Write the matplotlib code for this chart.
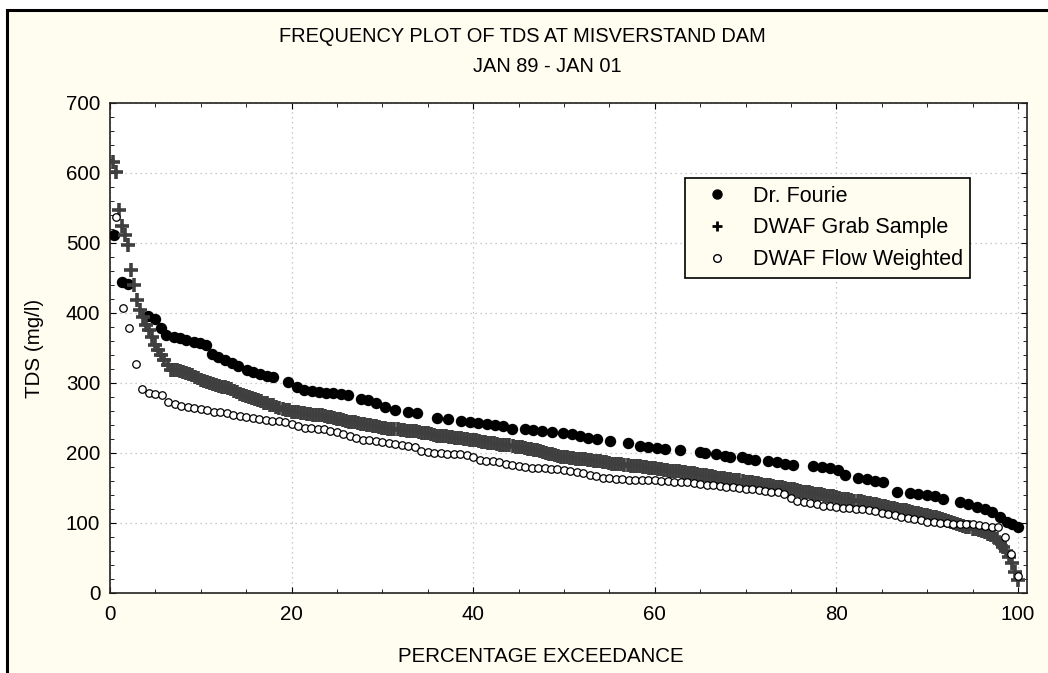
import numpy as np
import matplotlib.pyplot as plt
from matplotlib.patches import Rectangle
from matplotlib.lines import Line2D
from matplotlib.ticker import MultipleLocator

plt.rcParams['font.family'] = ['Liberation Sans', 'DejaVu Sans']

# Dr. Fourie: percentage exceedance and TDS (mg/l)
fourie_pct = [0.4, 1.3, 2.0, 4.2, 5.0, 5.6, 6.2, 7.0, 7.7, 8.4,
              9.2, 9.9, 10.6, 11.2, 11.9, 12.7, 13.4, 14.1, 15.1, 15.8,
              16.5, 17.3, 18.0, 19.6, 20.6, 21.4, 22.2, 23.0, 23.8, 24.6,
              25.4, 26.2, 27.6, 28.4, 29.3, 30.3, 31.4, 32.8, 33.8, 36.0,
              37.2, 38.7, 39.6, 40.5, 41.5, 42.4, 43.3, 44.3, 45.7, 46.6,
              47.6, 48.7, 49.9, 50.9, 51.8, 52.6, 53.6, 55.1, 57.0, 58.4,
              59.3, 60.2, 61.1, 62.8, 65.0, 65.5, 66.8, 67.7, 68.3, 69.6,
              70.3, 71.0, 72.5, 73.5, 74.3, 75.2, 77.4, 78.4, 79.3, 80.2,
              81.0, 82.4, 83.4, 84.3, 85.1, 86.7, 88.1, 89.0, 90.0, 90.9,
              91.7, 93.6, 94.5, 95.5, 96.4, 97.2, 98.0, 98.8, 99.4, 100.0]
fourie_tds = [512, 444, 441, 396, 392, 379, 369, 366, 365, 361,
              358, 357, 355, 341, 337, 333, 328, 324, 319, 316,
              313, 310, 309, 301, 295, 290, 288, 287, 286, 286,
              285, 283, 277, 276, 272, 266, 261, 259, 257, 250,
              249, 246, 245, 243, 241, 240, 238, 234, 234, 233,
              231, 230, 229, 227, 224, 222, 220, 217, 214, 210,
              209, 207, 206, 204, 202, 200, 198, 196, 195, 194,
              192, 190, 189, 187, 185, 183, 182, 180, 178, 176,
              169, 165, 163, 160, 158, 145, 143, 141, 140, 138,
              134, 130, 127, 123, 120, 116, 109, 102, 99, 95]

# DWAF grab samples, TDS sorted high to low
grab_tds = [616, 601, 547, 525, 512, 497, 461, 440, 419, 405,
            395, 383, 376, 366, 354, 347, 340, 333, 326, 319,
            319, 318, 317, 316, 314, 313, 311, 309, 307, 305,
            303, 301, 300, 299, 297, 296, 295, 294, 293, 291,
            289, 287, 285, 283, 281, 280, 279, 277, 276, 274,
            272, 271, 269, 268, 266, 265, 263, 262, 261, 259,
            258, 258, 257, 257, 256, 256, 255, 255, 254, 254,
            253, 252, 251, 250, 249, 248, 247, 246, 245, 245,
            244, 243, 242, 241, 240, 240, 239, 238, 237, 236,
            236, 235, 235, 234, 234, 233, 233, 232, 232, 231,
            231, 230, 229, 228, 228, 227, 226, 225, 225, 224,
            224, 223, 223, 222, 221, 221, 220, 220, 219, 218,
            218, 217, 216, 216, 215, 214, 214, 213, 212, 212,
            211, 211, 210, 209, 209, 208, 207, 206, 206, 205,
            204, 203, 202, 200, 199, 198, 197, 196, 195, 194,
            194, 193, 193, 192, 192, 191, 191, 190, 190, 189,
            188, 188, 187, 187, 186, 185, 185, 184, 184, 183,
            183, 182, 182, 181, 181, 180, 180, 179, 178, 178,
            177, 177, 176, 176, 175, 175, 174, 174, 173, 173,
            172, 171, 171, 170, 169, 169, 168, 167, 167, 166,
            165, 165, 164, 163, 163, 162, 161, 161, 160, 159,
            159, 158, 157, 157, 156, 155, 154, 154, 153, 152,
            151, 151, 150, 149, 148, 148, 147, 146, 145, 145,
            144, 143, 142, 142, 141, 140, 139, 139, 138, 137,
            136, 135, 135, 134, 133, 132, 131, 131, 130, 129,
            128, 127, 127, 126, 125, 124, 123, 122, 121, 120,
            119, 118, 118, 117, 116, 115, 114, 113, 112, 111,
            110, 109, 108, 107, 106, 104, 103, 102, 100, 98,
            97, 96, 95, 94, 92, 91, 90, 88, 87, 85,
            83, 80, 77, 72, 66, 60, 52, 43, 30, 19]

# DWAF flow weighted, TDS sorted high to low
flow_tds = [537, 407, 379, 327, 291, 286, 284, 283, 273, 270,
            267, 266, 264, 263, 261, 259, 258, 257, 255, 253,
            251, 250, 248, 247, 246, 246, 244, 241, 238, 236,
            236, 235, 234, 232, 230, 227, 224, 221, 219, 218,
            217, 216, 215, 213, 211, 210, 208, 203, 201, 200,
            200, 199, 199, 198, 197, 195, 190, 189, 188, 187,
            185, 183, 181, 180, 179, 178, 178, 177, 177, 176,
            175, 173, 171, 169, 167, 165, 164, 163, 163, 162,
            162, 162, 161, 161, 160, 160, 159, 159, 158, 157,
            156, 155, 154, 153, 152, 151, 150, 149, 148, 147,
            146, 145, 144, 141, 136, 132, 130, 128, 127, 125,
            124, 123, 122, 121, 120, 120, 119, 117, 115, 113,
            111, 109, 107, 106, 104, 102, 101, 100, 100, 99,
            99, 99, 98, 97, 96, 95, 94, 80, 56, 25]

# percentage exceedance from rank
grab_pct = 100.0 * np.arange(1, len(grab_tds) + 1) / len(grab_tds)
flow_pct = 100.0 * np.arange(1, len(flow_tds) + 1) / len(flow_tds)

cream = '#fffcf0'
fs = 14.8
fig = plt.figure(figsize=(10.48, 6.73), dpi=100, facecolor='white')
# outer frame
fig.patches.append(Rectangle((7 / 1048, -0.05), 1.1, 1 - 10 / 673 + 0.05,
                             transform=fig.transFigure, facecolor=cream,
                             edgecolor='black', lw=2.2, zorder=-10))

ax = fig.add_axes([110 / 1048, 80 / 673, 917 / 1048, 490 / 673])
ax.set_facecolor('white')

ax.plot(fourie_pct, fourie_tds, 'o', ms=7.2, color='black', ls='none', zorder=3)
ax.plot(grab_pct, grab_tds, '+', ms=9.5, mew=2.6, color='#3f3f3f', ls='none', zorder=4)
ax.plot(flow_pct, flow_tds, 'o', ms=5.4, mfc='white', mec='black', mew=0.9, ls='none', zorder=5)

ax.set_xlim(0, 101)
ax.set_ylim(0, 700)
ax.xaxis.set_major_locator(MultipleLocator(20))
ax.xaxis.set_minor_locator(MultipleLocator(5))
ax.yaxis.set_major_locator(MultipleLocator(100))
ax.yaxis.set_minor_locator(MultipleLocator(20))
ax.tick_params(which='both', direction='in', top=True, right=True, labelsize=fs)
ax.tick_params(axis='x', pad=9)
ax.tick_params(axis='y', pad=7)
ax.tick_params(which='major', length=4)
ax.tick_params(which='minor', length=3)
ax.grid(True, which='major', ls=(0, (1, 3)), color='#b8b8b8', lw=0.9)
for s in ax.spines.values():
    s.set_linewidth(1.2)
    s.set_color('#222222')

ax.set_xlabel('PERCENTAGE EXCEEDANCE', fontsize=fs, labelpad=18)
ax.xaxis.set_label_coords(0.47, -0.11)
ax.set_ylabel('TDS (mg/l)', fontsize=fs, labelpad=16)

fig.text(522 / 1048, 1 - 37 / 673, 'FREQUENCY PLOT OF TDS AT MISVERSTAND DAM',
         fontsize=14.4, ha='center', va='center')
fig.text(547 / 1048, 1 - 67 / 673, 'JAN 89 - JAN 01', fontsize=14.4, ha='center', va='center')

handles = [Line2D([], [], marker='o', ls='none', color='black', ms=6.5),
           Line2D([], [], marker='+', ls='none', color='black', ms=7.5, mew=2),
           Line2D([], [], marker='o', ls='none', mfc='white', mec='black', ms=5.5, mew=1)]
leg = ax.legend(handles, ['Dr. Fourie', 'DWAF Grab Sample', 'DWAF Flow Weighted'],
                loc='upper left', bbox_to_anchor=(685 / 1048, 1 - 178 / 673),
                bbox_transform=fig.transFigure, borderaxespad=0, fontsize=15.5,
                fancybox=False, framealpha=1, facecolor=cream, edgecolor='black',
                handletextpad=0.5, labelspacing=0.5, borderpad=0.35, handlelength=2.3)
leg.get_frame().set_linewidth(1.2)

fig.savefig('out.png', dpi=100, facecolor=fig.get_facecolor())
